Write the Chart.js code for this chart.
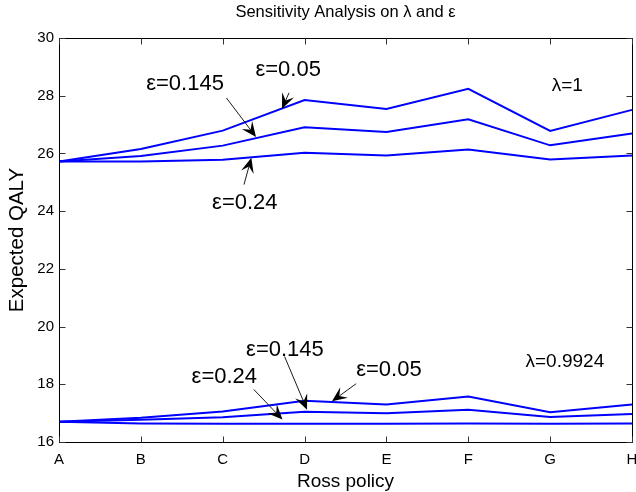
<!DOCTYPE html>
<html>
<head>
<meta charset="utf-8">
<script src="https://cdn.jsdelivr.net/npm/chart.js@4.4.1/dist/chart.umd.min.js"></script>
<style>
  html, body { margin: 0; padding: 0; background: #fff; }
  #wrap { width: 636px; height: 492px; }
</style>
</head>
<body>
<div id="wrap"><canvas id="c" width="636" height="492"></canvas></div>
<script>
// ---- data ----
const categories = ['A', 'B', 'C', 'D', 'E', 'F', 'G', 'H'];
const yTicks = [16, 18, 20, 22, 24, 26, 28, 30];
const lambda1_eps005 = [25.72, 26.15, 26.79, 27.85, 27.54, 28.24, 26.78, 27.51];
const lambda1_eps0145 = [25.72, 25.91, 26.27, 26.91, 26.74, 27.18, 26.28, 26.69];
const lambda1_eps024 = [25.72, 25.72, 25.78, 26.02, 25.93, 26.14, 25.79, 25.93];
const lambda09924_eps005 = [16.70, 16.84, 17.06, 17.43, 17.30, 17.58, 17.03, 17.30];
const lambda09924_eps0145 = [16.70, 16.77, 16.86, 17.05, 17.00, 17.12, 16.87, 16.97];
const lambda09924_eps024 = [16.70, 16.64, 16.63, 16.63, 16.63, 16.64, 16.63, 16.64];

const titleText = 'Sensitivity Analysis on \u03bb and \u03b5';
const xTitle = 'Ross policy';
const yTitle = 'Expected QALY';

// annotations (in data coordinates: x = category index, y = value)
const annoLabels = [
  { text: '\u03b5=0.145', x: 1.54, y: 28.40, size: 22 },
  { text: '\u03b5=0.05', x: 2.80, y: 28.88, size: 22 },
  { text: '\u03b5=0.24', x: 2.27, y: 24.29, size: 22 },
  { text: '\u03bb=1', x: 6.21, y: 28.33, size: 19 },
  { text: '\u03b5=0.145', x: 2.76, y: 19.20, size: 22 },
  { text: '\u03b5=0.24', x: 2.02, y: 18.25, size: 22 },
  { text: '\u03b5=0.05', x: 4.03, y: 18.48, size: 22 },
  { text: '\u03bb=0.9924', x: 6.18, y: 18.77, size: 19 }
];
const annoArrows = [
  { x0: 2.046, y0: 27.92, x1: 2.407, y1: 26.57 },
  { x0: 2.81, y0: 28.10, x1: 2.724, y1: 27.55 },
  { x0: 2.26, y0: 24.92, x1: 2.35, y1: 25.85 },
  { x0: 2.756, y0: 18.96, x1: 3.03, y1: 17.12 },
  { x0: 2.38, y0: 17.82, x1: 2.73, y1: 16.78 },
  { x0: 3.63, y0: 18.02, x1: 3.335, y1: 17.41 }
];

const FONT = '"Liberation Sans", Arial, Helvetica, sans-serif';

const overlay = {
  id: 'overlay',
  afterDatasetsDraw(chart) {
    const { ctx, chartArea: a, scales: { x, y } } = chart;
    ctx.save();
    // frame
    ctx.strokeStyle = '#000';
    ctx.lineWidth = 1;
    const L = Math.round(a.left) + 0.5, R = Math.round(a.right) + 0.5;
    const T = Math.round(a.top) + 0.5, B = Math.round(a.bottom) + 0.5;
    ctx.strokeRect(L, T, R - L, B - T);
    // inside ticks
    const tl = 6;
    ctx.strokeStyle = '#333';
    ctx.beginPath();
    yTicks.forEach(v => {
      const py = Math.round(y.getPixelForValue(v)) + 0.5;
      ctx.moveTo(L, py); ctx.lineTo(L + tl, py);
      ctx.moveTo(R, py); ctx.lineTo(R - tl, py);
    });
    categories.forEach((c, i) => {
      const px = Math.round(x.getPixelForValue(i)) + 0.5;
      ctx.moveTo(px, B); ctx.lineTo(px, B - tl);
      ctx.moveTo(px, T); ctx.lineTo(px, T + tl);
    });
    ctx.stroke();
    // arrows
    ctx.strokeStyle = '#000';
    ctx.fillStyle = '#000';
    annoArrows.forEach(ar => {
      const x0 = x.getPixelForValue(ar.x0), y0 = y.getPixelForValue(ar.y0);
      const x1 = x.getPixelForValue(ar.x1), y1 = y.getPixelForValue(ar.y1);
      const dx = x1 - x0, dy = y1 - y0, len = Math.hypot(dx, dy);
      const ux = dx / len, uy = dy / len, nx = -uy, ny = ux;
      const hl = 15, hw = 6.5;
      const bx = x1 - ux * hl, by = y1 - uy * hl;
      const mx = x1 - ux * hl * 0.6, my = y1 - uy * hl * 0.6;
      ctx.lineWidth = 0.9;
      ctx.beginPath();
      ctx.moveTo(x0, y0); ctx.lineTo(mx, my);
      ctx.stroke();
      ctx.beginPath();
      ctx.moveTo(x1, y1);
      ctx.lineTo(bx + nx * hw, by + ny * hw);
      ctx.lineTo(mx, my);
      ctx.lineTo(bx - nx * hw, by - ny * hw);
      ctx.closePath();
      ctx.fill();
    });
    // labels
    ctx.textAlign = 'center';
    ctx.textBaseline = 'middle';
    annoLabels.forEach(l => {
      ctx.font = l.size + 'px ' + FONT;
      ctx.fillText(l.text, x.getPixelForValue(l.x), y.getPixelForValue(l.y));
    });
    // title, centred over the plot area
    ctx.font = '16.5px ' + FONT;
    ctx.fillText(titleText, (a.left + a.right) / 2, 12.5);
    ctx.restore();
  }
};

function mkDs(data) {
  return { data, borderColor: '#0000ff', borderWidth: 2, pointRadius: 0, tension: 0, fill: false };
}

new Chart(document.getElementById('c'), {
  type: 'line',
  data: {
    labels: categories,
    datasets: [
      mkDs(lambda1_eps005), mkDs(lambda1_eps0145), mkDs(lambda1_eps024),
      mkDs(lambda09924_eps005), mkDs(lambda09924_eps0145), mkDs(lambda09924_eps024)
    ]
  },
  options: {
    responsive: false,
    animation: false,
    devicePixelRatio: 1,
    layout: { padding: { left: 0, right: 4, top: 38, bottom: 0 } },
    plugins: {
      legend: { display: false },
      tooltip: { enabled: false },
      title: { display: false }
    },
    scales: {
      x: {
        type: 'category',
        offset: false,
        grid: { display: false, drawTicks: false },
        border: { display: false },
        ticks: { color: '#000', font: { family: FONT, size: 15 }, padding: 9, maxRotation: 0, autoSkip: false },
        title: { display: true, text: xTitle, color: '#000', font: { family: FONT, size: 19, lineHeight: 1 }, padding: { top: 0, bottom: 0.5 } },
        afterFit(s) { s.height = 50; s.paddingLeft = 0; s.paddingRight = 0; }
      },
      y: {
        min: 16, max: 30,
        grid: { display: false, drawTicks: false },
        border: { display: false },
        afterBuildTicks(s) { s.ticks = yTicks.map(v => ({ value: v })); },
        ticks: { color: '#000', font: { family: FONT, size: 15 }, padding: 5 },
        title: { display: true, text: yTitle, color: '#000', font: { family: FONT, size: 20.5, lineHeight: 1.2 }, padding: { top: 5, bottom: 0 } },
        afterFit(s) { s.width = 59; s.paddingTop = 0; s.paddingBottom = 0; }
      }
    }
  },
  plugins: [overlay]
});
</script>
</body>
</html>
